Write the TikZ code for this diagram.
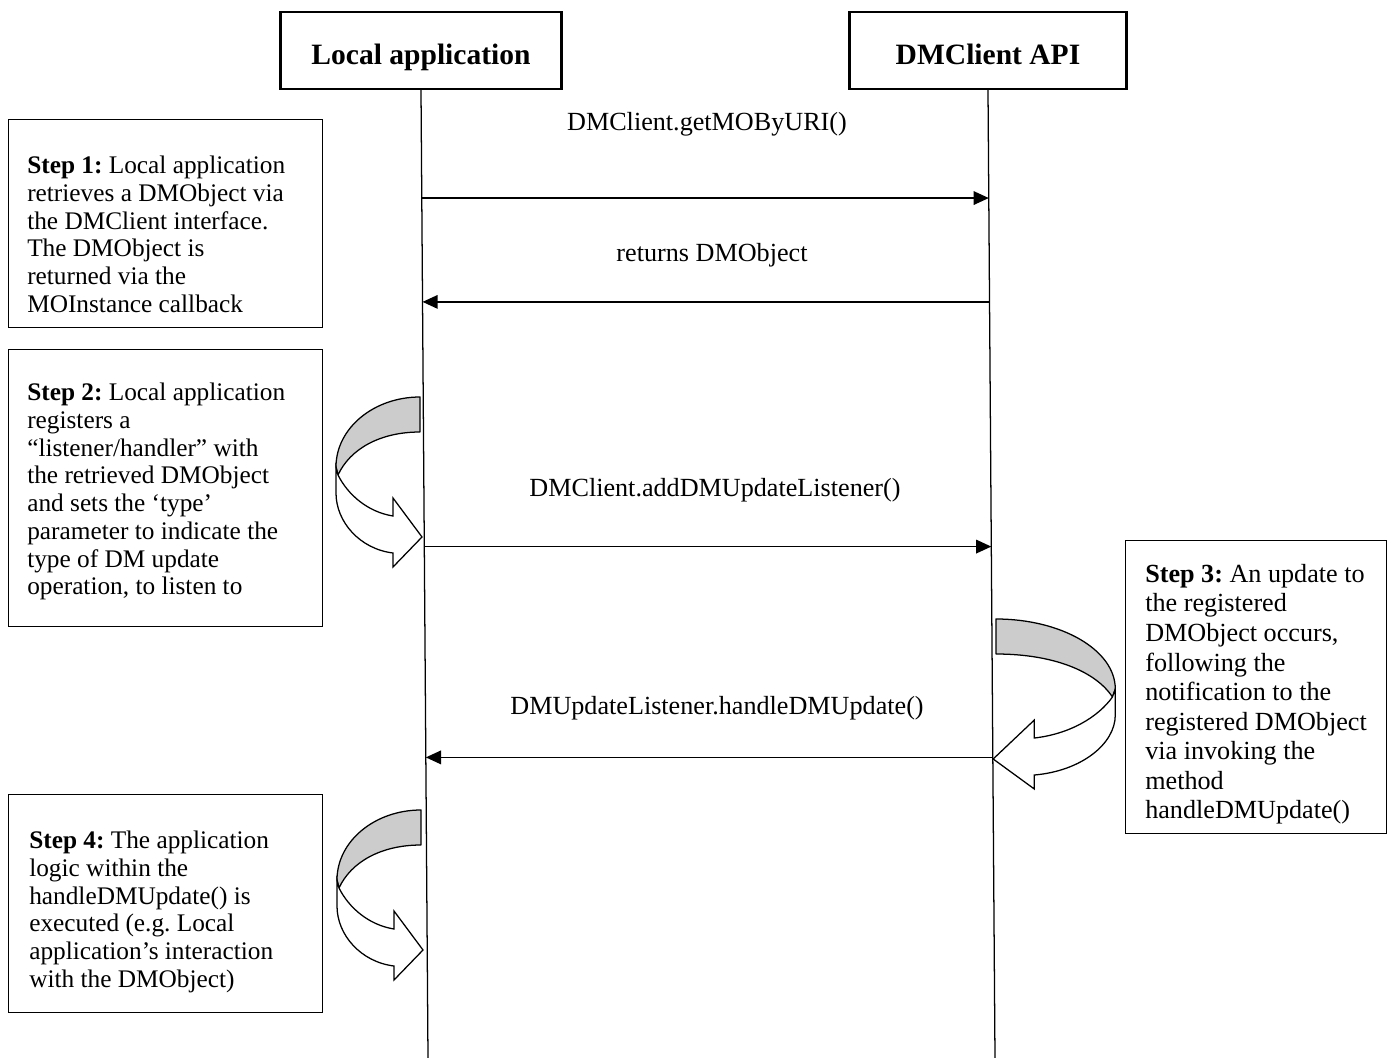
\documentclass[tikz,border=0pt]{standalone}
\usepackage{fontspec}
\setmainfont{Liberation Serif}
\usetikzlibrary{arrows.meta}
\frenchspacing

\tikzset{
  bendarrow/.pic={
    % back of the band
    \draw[fill=gray!40, line width=0.9pt, line join=round]
      (0,0) .. controls (-46,0) and (-84,31) .. (-84,70)
      -- (-82,78) .. controls (-70,52) and (-40,35) .. (0,35) -- cycle;
    % front of the band with its head
    \draw[fill=white, line width=0.9pt]
      (-84,70) -- (-84,96) .. controls (-84,125) and (-60,152) .. (-27,156)
      -- (-27,170) -- (2,140) -- (-27,101) -- (-27,119)
      .. controls (-52,115) and (-72,98) .. (-82,78) -- cycle;
  }
}

\begin{document}
\begin{tikzpicture}[
    x=0.025cm, y=-0.025cm,
    actor/.style={draw, line width=1.6pt, minimum height=1.925cm, text height=20.5pt, text depth=0pt, font=\fontsize{21}{25}\selectfont\bfseries},
    lifeline/.style={line width=0.9pt},
    message/.style={-{Triangle[length=0.38cm,width=0.34cm]}, line width=1.1pt},
    msglabel/.style={font=\fontsize{18.6}{21}\selectfont},
    stepbox/.style={draw, line width=1pt, anchor=north west, inner sep=0pt},
    steptext/.style={anchor=north west, align=left, inner sep=0pt, font=\fontsize{18}{19.7}\selectfont},
  ]

  \useasboundingbox[fill=white] (0,0) rectangle (1389,1058);

  % the two parties
  \node[actor, minimum width=7.025cm] (app) at (421,50.5) {Local application};
  \node[actor, minimum width=6.925cm] (api) at (988,50.5) {DMClient API};

  \coordinate (append) at (428,1058);
  \coordinate (apiend) at (995,1058);
  \draw[lifeline] (app.south) -- (append);
  \draw[lifeline] (api.south) -- (apiend);

  % points on the lifelines
  \foreach \p [count=\i] in {0.1115,0.2188,0.4716,0.6894} {
    \path (app.south) -- (append) coordinate[pos=\p] (a\i);
    \path (api.south) -- (apiend) coordinate[pos=\p] (d\i);
  }

  \draw[message] (a1) -- (d1);
  \draw[message] (d2) -- (a2);
  \draw[message] (a3) -- (d3);
  \draw[message] (d4) -- (a4);

  \node[msglabel] (m1) at (707,124) {DMClient.getMOByURI()};
  \node[msglabel] (m2) at (712,255) {returns DMObject};
  \node[msglabel] (m3) at (715,490) {DMClient.addDMUpdateListener()};
  \node[msglabel] (m4) at (717,708) {DMUpdateListener.handleDMUpdate()};

  % step boxes
  \node[stepbox, minimum width=7.85cm, minimum height=5.2cm] (step1) at (8,119) {};
  \node[steptext] (step1txt) at (27,156) {\textbf{Step 1:} Local application\\retrieves a DMObject via\\the DMClient interface.\\The DMObject is\\returned via the\\MOInstance callback};

  \node[stepbox, minimum width=7.85cm, minimum height=6.925cm] (step2) at (8,349) {};
  \node[steptext] (step2txt) at (27,383) {\textbf{Step 2:} Local application\\registers a\\“listener/handler” with\\the retrieved DMObject\\and sets the ‘type’\\parameter to indicate the\\type of DM update\\operation, to listen to};

  \node[stepbox, minimum width=6.525cm, minimum height=7.325cm] (step3) at (1125,540) {};
  \node[steptext, font=\fontsize{18.6}{21}\selectfont] (step3txt) at (1145,564) {\textbf{Step 3:} An update to\\the registered\\DMObject occurs,\\following the\\notification to the\\registered DMObject\\via invoking the\\method\\handleDMUpdate()};

  \node[stepbox, minimum width=7.85cm, minimum height=5.45cm] (step4) at (8,794) {};
  \node[steptext] (step4txt) at (29,831) {\textbf{Step 4:} The application\\logic within the\\handleDMUpdate() is\\executed (e.g. Local\\application’s interaction\\with the DMObject)};

  % curved arrows
  \pic at (420,397) {bendarrow};
  \pic[xscale=-1.42] at (996,619) {bendarrow};
  \pic at (421,810) {bendarrow};
\end{tikzpicture}
\end{document}
